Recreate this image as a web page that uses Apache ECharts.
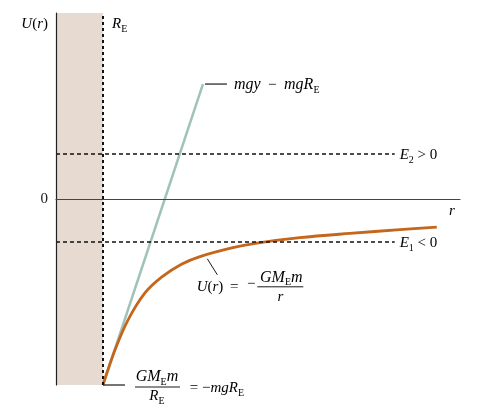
<!DOCTYPE html>
<html><head><meta charset="utf-8">
<script src="https://cdn.jsdelivr.net/npm/echarts@6/dist/echarts.min.js"></script>
<style>html,body{margin:0;padding:0;background:#fff}#c{width:480px;height:420px}</style>
</head><body><div id="c"></div>
<script>
// r in units of R_E, U in units of mgR_E
const rValues = [1.0, 1.255, 1.532, 1.894, 2.255, 2.681, 3.064, 3.766, 4.277, 5.191, 6.255, 7.319, 8.106];
const uValues = [-1.0, -0.812, -0.651, -0.505, -0.419, -0.350, -0.310, -0.262, -0.237, -0.208, -0.185, -0.165, -0.151];
const flatR = [1.0, 3.128];
const flatU = [-1.0, 0.618];
const earthRadius = 1.0;
const energyLevels = [0.242, -0.231];
const energyEnd = 7.21;
const energyLabels = ['{i|E}{s|2}{n| > 0}', '{i|E}{s|1}{n| < 0}'];
const yTicks = [-1, 0, 1];
const xMax = 8.6;

const FONT = "'Liberation Serif','DejaVu Serif',serif";
const INK = '#1a1a1a';
const rich = {
  i: {fontFamily: FONT, fontStyle: 'italic', fontSize: 15, lineHeight: 20, color: INK},
  w: {fontFamily: FONT, fontStyle: 'italic', fontSize: 16, lineHeight: 20, color: INK},
  n: {fontFamily: FONT, fontSize: 15, lineHeight: 20, color: INK},
  s: {fontFamily: FONT, fontSize: 10, lineHeight: 10, verticalAlign: 'bottom', color: INK}
};

const chart = echarts.init(document.getElementById('c'));
chart.setOption({
  animation: false,
  grid: {left: 56, right: 20, top: 13, bottom: 35},
  xAxis: {
    type: 'value', min: 0, max: xMax, z: 10,
    axisLine: {onZero: true, lineStyle: {color: '#444', width: 1.2}},
    axisTick: {show: false}, axisLabel: {show: false}, splitLine: {show: false}
  },
  yAxis: {
    type: 'value', min: yTicks[0], max: yTicks[yTicks.length - 1], interval: 1, z: 10,
    axisLine: {show: true, onZero: false, lineStyle: {color: '#222', width: 1.2}},
    axisTick: {show: false}, splitLine: {show: false},
    axisLabel: {formatter: v => (v === 0 ? '0' : ''), fontFamily: FONT, fontSize: 15, color: INK, margin: 8}
  },
  series: [
    {
      type: 'line', data: flatR.map((r, i) => [r, flatU[i]]), symbol: 'none', z: 3,
      lineStyle: {color: '#9fc3b9', width: 2.5}
    },
    {
      type: 'line', data: rValues.map((r, i) => [r, uValues[i]]), symbol: 'none', smooth: 0.35, z: 4,
      lineStyle: {color: '#c4661c', width: 2.8},
      markArea: {silent: true, itemStyle: {color: '#e6dad1'}, data: [[{xAxis: 0}, {xAxis: earthRadius}]]},
      markLine: {
        silent: true, symbol: 'none', label: {show: false},
        data: [
          {xAxis: earthRadius, lineStyle: {color: '#111', type: [3, 3], width: 2}},
          ...energyLevels.map(e => [{coord: [0, e], lineStyle: {color: '#111', type: [4, 3], width: 1.6}}, {coord: [energyEnd, e]}])
        ]
      }
    }
  ]
});

const P = (x, y) => chart.convertToPixel({gridIndex: 0}, [x, y]);
const txt = (x, y, text, align, va) => ({type: 'text', silent: true, z: 10, style: {x, y, text, rich, align: align || 'left', verticalAlign: va || 'middle'}});
const seg = (x1, y1, x2, y2, w) => ({type: 'line', silent: true, z: 10, shape: {x1, y1, x2, y2}, style: {stroke: INK, lineWidth: w || 1}});

const TL = P(0, yTicks[2]);
const RE = P(earthRadius, yTicks[2]);
const G = P(flatR[1], flatU[1]);
const A = P(3.2, -0.3);
const B = P(flatR[0], flatU[0]);
const R = P(xMax, 0);
const g = [];
g.push(txt(TL[0] - 8, TL[1] + 11, '{i|U}{n|(}{i|r}{n|)}', 'right'));
g.push(txt(RE[0] + 9, RE[1] + 11, '{i|R}{s|E}'));
g.push(seg(G[0] + 2, G[1], G[0] + 24, G[1], 1.2));
g.push(txt(G[0] + 31, G[1] + 1, '{w|mgy}{n|  −  }{w|mgR}{s|E}'));
energyLevels.forEach((e, k) => { const p = P(energyEnd, e); g.push(txt(p[0] + 5, p[1] + 1, energyLabels[k])); });
g.push(txt(R[0] - 8, R[1] + 12, '{i|r}', 'center'));
// U(r) = -GM_E m / r
g.push(seg(A[0] + 1, A[1] + 4, A[0] + 11, A[1] + 20, 1));
const F = [A[0], A[1] + 32];
g.push(txt(F[0] + 17, F[1], '{i|U}{n|(}{i|r}{n|)}', 'right'));
g.push(txt(F[0] + 28, F[1], '{n|=}', 'center'));
g.push(txt(F[0] + 45, F[1] - 3, '{n|−}', 'center'));
g.push(txt(F[0] + 75, F[1] - 9, '{w|GM}{s|E}{w|m}', 'center'));
g.push(seg(F[0] + 51, F[1], F[0] + 97, F[1], 1));
g.push(txt(F[0] + 74, F[1] + 10, '{i|r}', 'center'));
// GM_E m / R_E = -mgR_E
g.push(seg(B[0], B[1], B[0] + 22, B[1], 1.2));
g.push(txt(B[0] + 54, B[1] - 8, '{w|GM}{s|E}{w|m}', 'center'));
g.push(seg(B[0] + 32, B[1] + 2, B[0] + 77, B[1] + 2, 1));
g.push(txt(B[0] + 54, B[1] + 11, '{i|R}{s|E}', 'center'));
g.push(txt(B[0] + 91, B[1] + 3, '{n|=}', 'center'));
g.push(txt(B[0] + 99, B[1] + 3, '{n|−}{i|mgR}{s|E}'));
chart.setOption({graphic: g});
</script>
</body></html>
